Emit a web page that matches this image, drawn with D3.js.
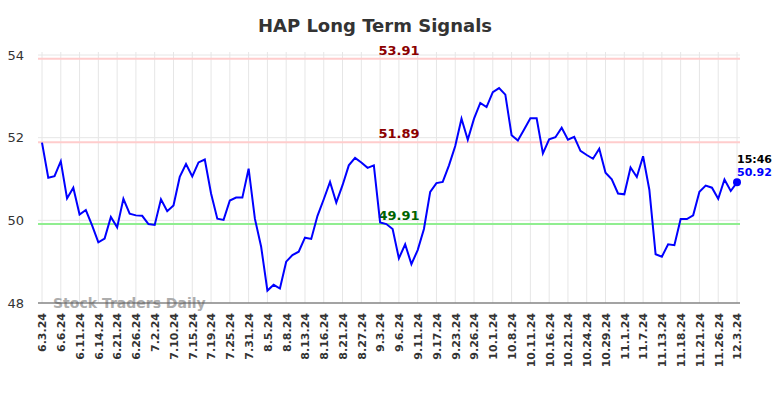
<!DOCTYPE html>
<html>
<head>
<meta charset="utf-8">
<script src="https://cdn.jsdelivr.net/npm/d3@7"></script>
<style>
  body { margin: 0; background: #fff; }
  svg { font-family: "DejaVu Sans", sans-serif; }
</style>
</head>
<body>
<div id="chart"></div>
<script>
// closing prices, one per session in the chart
const prices = [
  51.88, 51.03, 51.07, 51.43, 50.53, 50.79, 50.14, 50.25, 49.88, 49.47,
  49.56, 50.08, 49.83, 50.52, 50.16, 50.12, 50.11, 49.91, 49.89, 50.51,
  50.22, 50.36, 51.05, 51.36, 51.06, 51.40, 51.47, 50.65, 50.04, 50.01,
  50.48, 50.55, 50.55, 51.25, 50.04, 49.36, 48.30, 48.44, 48.35, 49.00,
  49.16, 49.24, 49.58, 49.55, 50.11, 50.51, 50.93, 50.43, 50.85, 51.33,
  51.51, 51.40, 51.27, 51.33, 49.95, 49.91, 49.79, 49.08, 49.42, 48.94,
  49.28, 49.79, 50.69, 50.90, 50.93, 51.33, 51.80, 52.46, 51.95, 52.46,
  52.84, 52.74, 53.10, 53.20, 53.04, 52.06, 51.93, 52.20, 52.47, 52.47,
  51.62, 51.96, 52.01, 52.24, 51.95, 52.02, 51.68, 51.58, 51.49, 51.73,
  51.15, 50.99, 50.65, 50.63, 51.28, 51.05, 51.55, 50.74, 49.18, 49.12,
  49.42, 49.40, 50.03, 50.03, 50.12, 50.69, 50.84, 50.79, 50.52, 50.99,
  50.71, 50.92
];

// one label every third session
const tickLabels = [
  '6.3.24', '6.6.24', '6.11.24', '6.14.24', '6.21.24', '6.26.24', '7.2.24', '7.10.24',
  '7.15.24', '7.19.24', '7.25.24', '7.31.24', '8.5.24', '8.8.24', '8.13.24', '8.16.24',
  '8.21.24', '8.27.24', '9.3.24', '9.6.24', '9.11.24', '9.17.24', '9.23.24', '9.26.24',
  '10.1.24', '10.8.24', '10.11.24', '10.16.24', '10.21.24', '10.24.24', '10.29.24', '11.1.24',
  '11.7.24', '11.13.24', '11.18.24', '11.21.24', '11.26.24', '12.3.24'
];
const tickStep = 3;

const yTicks = [48, 50, 52, 54];
const resistLevels = [53.91, 51.89];
const supportLevels = [49.91];
const lastTime = '15:46';

const width = 784, height = 398;
const margin = {left: 38, right: 740, top: 55, bottom: 303};

const svg = d3.select('#chart').append('svg')
  .attr('width', width)
  .attr('height', height);

const x = d3.scaleLinear().domain([0, prices.length - 1]).range([42, 737]);
const y = d3.scaleLinear().domain([48, 54]).range([margin.bottom, margin.top]);

// title
svg.append('text')
  .attr('x', 375).attr('y', 32)
  .attr('text-anchor', 'middle')
  .style('font-size', '18px').style('font-weight', 'bold').style('fill', '#333')
  .text('HAP Long Term Signals');

// grid
const grid = svg.append('g');
grid.selectAll('line.v')
  .data(tickLabels)
  .enter().append('line')
  .attr('x1', (d, i) => x(i * tickStep)).attr('x2', (d, i) => x(i * tickStep))
  .attr('y1', 52).attr('y2', margin.bottom)
  .style('stroke', '#e6e6e6').style('stroke-width', 1);
grid.selectAll('line.h')
  .data(yTicks)
  .enter().append('line')
  .attr('x1', margin.left).attr('x2', margin.right)
  .attr('y1', d => y(d)).attr('y2', d => y(d))
  .style('stroke', '#e6e6e6').style('stroke-width', 1);

// y axis labels
const yAxis = svg.append('g')
  .attr('transform', `translate(${margin.left - 14}, 0)`)
  .call(d3.axisLeft(y).tickValues(yTicks).tickSize(0).tickFormat(d3.format('d')));
yAxis.select('.domain').remove();
yAxis.selectAll('text')
  .attr('x', 0)
  .style('font-family', '"DejaVu Sans", sans-serif')
  .style('font-size', '13px').style('fill', '#333');

// x axis labels
const xAxis = svg.append('g')
  .attr('transform', `translate(0, ${margin.bottom})`)
  .call(d3.axisBottom(x)
    .tickValues(tickLabels.map((d, i) => i * tickStep))
    .tickSize(0)
    .tickFormat(d => tickLabels[d / tickStep]));
xAxis.select('.domain').remove();
xAxis.selectAll('text')
  .attr('transform', 'rotate(-90)')
  .attr('x', -10).attr('y', 0).attr('dy', '0.35em')
  .style('text-anchor', 'end')
  .style('font-family', '"DejaVu Sans", sans-serif')
  .style('font-size', '11px').style('font-weight', 'bold').style('fill', '#333');

// levels
svg.selectAll('line.res')
  .data(resistLevels)
  .enter().append('line')
  .attr('x1', margin.left).attr('x2', margin.right)
  .attr('y1', d => y(d)).attr('y2', d => y(d))
  .style('stroke', '#ffcccc').style('stroke-width', 2);
svg.selectAll('line.sup')
  .data(supportLevels)
  .enter().append('line')
  .attr('x1', margin.left).attr('x2', margin.right)
  .attr('y1', d => y(d)).attr('y2', d => y(d))
  .style('stroke', '#90ee90').style('stroke-width', 2);

svg.selectAll('text.res')
  .data(resistLevels)
  .enter().append('text')
  .attr('x', 399).attr('y', d => y(d) - 4)
  .attr('text-anchor', 'middle')
  .style('font-size', '13px').style('font-weight', 'bold').style('fill', '#8b0000')
  .text(d => d.toFixed(2));
svg.selectAll('text.sup')
  .data(supportLevels)
  .enter().append('text')
  .attr('x', 399).attr('y', d => y(d) - 4)
  .attr('text-anchor', 'middle')
  .style('font-size', '13px').style('font-weight', 'bold').style('fill', '#006400')
  .text(d => d.toFixed(2));

// watermark
svg.append('text')
  .attr('x', 53).attr('y', 308)
  .style('font-size', '14px').style('font-weight', 'bold').style('fill', '#999').style('opacity', 0.8)
  .text('Stock Traders Daily');

// bottom axis line
svg.append('line')
  .attr('x1', margin.left).attr('x2', margin.right)
  .attr('y1', margin.bottom).attr('y2', margin.bottom)
  .style('stroke', '#555').style('stroke-width', 1.2);

// price line
const lineFun = d3.line()
  .x((d, i) => x(i))
  .y(d => y(d));
svg.append('path')
  .datum(prices)
  .attr('d', lineFun)
  .style('fill', 'none').style('stroke', 'blue').style('stroke-width', 2);

// last point
const lastIdx = prices.length - 1;
svg.append('circle')
  .attr('cx', x(lastIdx)).attr('cy', y(prices[lastIdx]))
  .attr('r', 4).style('fill', 'blue');
svg.append('text')
  .attr('x', x(lastIdx)).attr('y', y(prices[lastIdx]) - 19)
  .style('font-size', '11px').style('font-weight', 'bold').style('fill', '#000')
  .text(lastTime);
svg.append('text')
  .attr('x', x(lastIdx)).attr('y', y(prices[lastIdx]) - 6)
  .style('font-size', '11px').style('font-weight', 'bold').style('fill', 'blue')
  .text(prices[lastIdx].toFixed(2));
</script>
</body>
</html>
